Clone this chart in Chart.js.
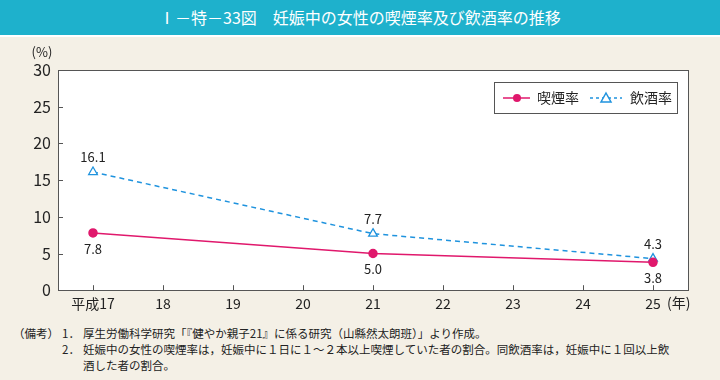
<!DOCTYPE html>
<html><head><meta charset="utf-8">
<script src="https://cdn.jsdelivr.net/npm/chart.js@4/dist/chart.umd.min.js"></script>
<style>
html,body{margin:0;padding:0;}
body{width:720px;height:380px;background:#f4f0e6;position:relative;overflow:hidden;font-family:"Noto Sans CJK JP","Noto Sans",sans-serif;}
#title{position:absolute;left:0;top:0;width:720px;height:35px;background:#1eb1cc;color:#fff;font-size:16px;line-height:35px;text-align:center;border-bottom:2px solid #fff;}
#wrap{position:absolute;left:0;top:38px;width:720px;height:279px;}
#notes{position:absolute;left:0;top:325px;width:720px;font-size:11.5px;color:#222;line-height:16px;white-space:nowrap;}
#notes div{position:relative;}
.lab{position:absolute;left:13px;}
.num{position:absolute;left:62px;}
.txt{position:absolute;left:83px;}
</style></head>
<body>
<div id="title">Ⅰ－特－33図　妊娠中の女性の喫煙率及び飲酒率の推移</div>
<div id="wrap"><canvas id="c" width="720" height="279"></canvas></div>
<div id="notes">
<div style="height:16px"><span class="lab">（備考）</span><span class="num">1．</span><span class="txt">厚生労働科学研究「『健やか親子21』に係る研究（山縣然太朗班）」より作成。</span></div>
<div style="height:16px"><span class="num">2．</span><span class="txt">妊娠中の女性の喫煙率は，妊娠中に１日に１～２本以上喫煙していた者の割合。同飲酒率は，妊娠中に１回以上飲</span></div>
<div style="height:16px"><span class="txt">酒した者の割合。</span></div>
</div>
<script>
const categories = ["平成17","18","19","20","21","22","23","24","25"];
const smoking = [7.8,null,null,null,5.0,null,null,null,3.8];
const drinking = [16.1,null,null,null,7.7,null,null,null,4.3];
const yTicks = [0,5,10,15,20,25,30];
const seriesNames = ["喫煙率","飲酒率"];

const PINK = "#e0186c", BLUE = "#1f93de", FONT = "'Noto Sans CJK JP','Noto Sans',sans-serif";

const decor = {
  id:"decor",
  beforeDatasetsDraw(chart){
    const {ctx, chartArea:a, scales:{x,y}} = chart;
    ctx.save();
    ctx.strokeStyle="#555"; ctx.lineWidth=1;
    ctx.strokeRect(Math.round(a.left)+0.5, Math.round(a.top)+0.5, Math.round(a.right-a.left), Math.round(a.bottom-a.top));
    ctx.beginPath();
    yTicks.forEach(v=>{const py=Math.round(y.getPixelForValue(v))+0.5; ctx.moveTo(a.left,py); ctx.lineTo(a.left+5,py);});
    categories.forEach((c,i)=>{const px=Math.round(x.getPixelForValue(i))+0.5; ctx.moveTo(px,a.bottom); ctx.lineTo(px,a.bottom-5);});
    ctx.stroke();
    ctx.restore();
  },
  afterDraw(chart){
    const {ctx, chartArea:a, scales:{x,y}} = chart;
    ctx.save();
    ctx.fillStyle="#222"; ctx.font="13px "+FONT; ctx.textAlign="center"; ctx.textBaseline="middle";
    ctx.fillText("(%)", 42, a.top-18);
    ctx.font="14px "+FONT; ctx.textAlign="left";
    ctx.fillText("(年)", x.getPixelForValue(8)+14, a.bottom+12);
    ctx.font="13px "+FONT; ctx.textAlign="center"; ctx.fillStyle="#222";
    chart.data.datasets.forEach((ds,di)=>{
      ds.data.forEach((v,i)=>{
        if(v==null) return;
        const px=x.getPixelForValue(i), py=y.getPixelForValue(v);
        const off = di===1 ? -15 : 16;
        ctx.fillText(v.toFixed(1), px, py+off);
      });
    });
    const L=494, T=82-38, W=183, H=31;
    ctx.fillStyle="#fff"; ctx.fillRect(L,T,W,H);
    ctx.strokeStyle="#555"; ctx.lineWidth=1; ctx.strokeRect(L+0.5,T+0.5,W,H);
    const cy=T+H/2+0.5;
    ctx.strokeStyle=PINK; ctx.lineWidth=1.5; ctx.beginPath(); ctx.moveTo(L+9,cy); ctx.lineTo(L+36,cy); ctx.stroke();
    ctx.fillStyle=PINK; ctx.beginPath(); ctx.arc(L+23,cy,4,0,Math.PI*2); ctx.fill();
    ctx.strokeStyle=BLUE; ctx.setLineDash([3,3]); ctx.beginPath(); ctx.moveTo(L+96,cy); ctx.lineTo(L+128,cy); ctx.stroke();
    ctx.setLineDash([]);
    ctx.fillStyle="#fff"; ctx.beginPath(); ctx.moveTo(L+112,cy-5); ctx.lineTo(L+117,cy+4); ctx.lineTo(L+107,cy+4); ctx.closePath(); ctx.fill(); ctx.stroke();
    ctx.fillStyle="#222"; ctx.font="14px "+FONT; ctx.textAlign="left";
    ctx.fillText(seriesNames[0], L+43, cy);
    ctx.fillText(seriesNames[1], L+136, cy);
    ctx.restore();
  }
};
const bg = {id:"bg", beforeDraw(chart){const {ctx,chartArea:a}=chart; ctx.save(); ctx.fillStyle="#fff"; ctx.fillRect(a.left,a.top,a.right-a.left,a.bottom-a.top); ctx.restore();}};

new Chart(document.getElementById("c"),{
  type:"line",
  data:{labels:categories,datasets:[
    {label:seriesNames[0],data:smoking,borderColor:PINK,backgroundColor:PINK,borderWidth:1.5,pointStyle:"circle",pointRadius:4,pointBackgroundColor:PINK,pointBorderColor:PINK,spanGaps:true,tension:0},
    {label:seriesNames[1],data:drinking,borderColor:BLUE,backgroundColor:"#fff",borderWidth:1.5,borderDash:[5,4],pointStyle:"triangle",pointRadius:5,pointBorderWidth:1.3,pointBackgroundColor:"#fff",pointBorderColor:BLUE,spanGaps:true,tension:0}
  ]},
  options:{
    responsive:false,animation:false,
    layout:{padding:{left:0,right:32,top:32,bottom:0}},
    plugins:{legend:{display:false},tooltip:{enabled:false}},
    scales:{
      x:{offset:true,grid:{display:false,drawTicks:false},border:{display:false},
         ticks:{padding:5,color:"#222",font:{family:FONT,size:14},maxRotation:0,autoSkip:false}},
      y:{min:0,max:30,afterBuildTicks(s){s.ticks=yTicks.map(v=>({value:v}));},
         afterFit(s){s.width=58;},
         grid:{display:false,drawTicks:false},border:{display:false},
         ticks:{padding:7,color:"#222",font:{family:FONT,size:16}}}
    }
  },
  plugins:[bg,decor]
});
</script>
</body></html>
